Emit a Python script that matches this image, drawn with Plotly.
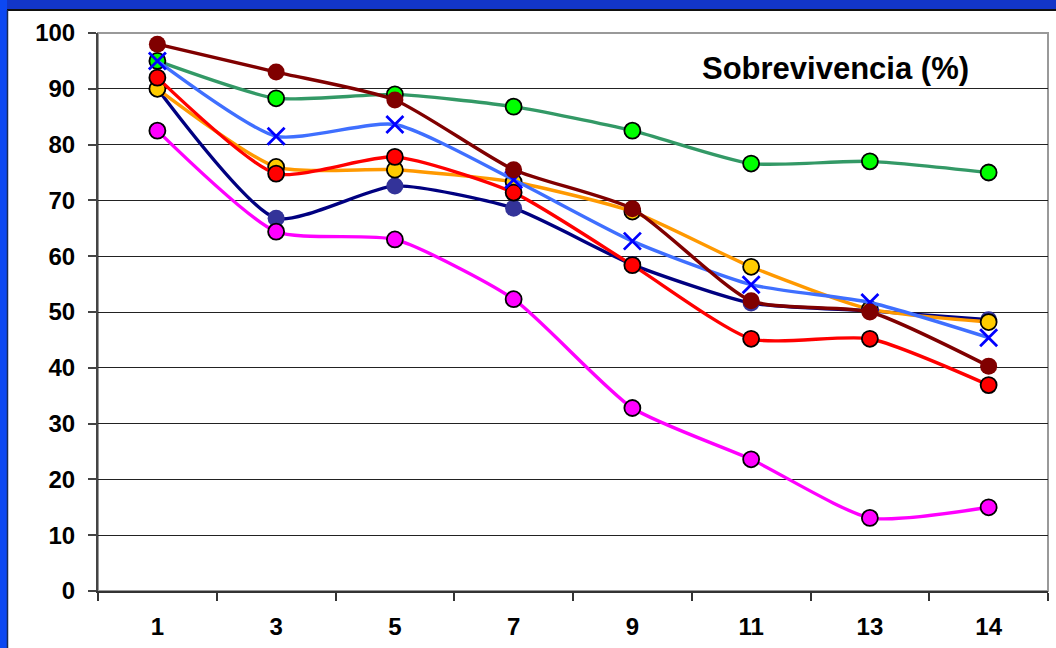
import plotly.graph_objects as go

# Days of evaluation (category axis)
dias = ["1", "3", "5", "7", "9", "11", "13", "14"]

# Survival (%) per treatment
serie_marron = [98, 93, 88, 75.5, 68.5, 52, 50, 40.3]
serie_verde = [95, 88.3, 89, 86.8, 82.5, 76.6, 77, 75]
serie_celeste = [95, 81.5, 83.6, 73.7, 62.7, 54.9, 51.7, 45.4]
serie_naranja = [90, 76, 75.5, 73.3, 68, 58.1, 50.5, 48.2]
serie_roja = [92, 74.8, 77.8, 71.4, 58.4, 45.2, 45.2, 36.9]
serie_azul = [90, 66.8, 72.6, 68.6, 58.5, 51.6, 50.2, 48.6]
serie_magenta = [82.5, 64.4, 63, 52.3, 32.8, 23.6, 13.1, 15]

y_ticks = list(range(0, 101, 10))

W, H = 1056, 648
L, R, T, B = 98, 8, 33, 57
PW, PH = W - L - R, H - T - B


def px_x(x):
    return (x - L) / PW


def px_y(y):
    return (H - B - y) / PH


fig = go.Figure()


def add_series(y, line_color, marker_color, symbol="circle", outline="black",
               outline_w=1.8, size=16):
    fig.add_trace(go.Scatter(
        x=dias, y=y, mode="lines+markers",
        line=dict(color=line_color, width=3.4, shape="spline", smoothing=0.6),
        marker=dict(symbol=symbol, size=size, color=marker_color,
                    line=dict(color=outline, width=outline_w)),
        showlegend=False, cliponaxis=False,
    ))


add_series(serie_azul, "#000080", "#333399", outline="#333399", outline_w=0,
           size=17)
add_series(serie_naranja, "#FF9900", "#FFCC00")
add_series(serie_roja, "#FF0000", "#FF0000")
add_series(serie_magenta, "#FF00FF", "#FF00FF")
add_series(serie_verde, "#339966", "#00FF00")
add_series(serie_celeste, "#3F6FFF", "#0000FF", symbol="x-thin",
           outline="#0000FF", outline_w=2.8, size=17)
add_series(serie_marron, "#800000", "#800000", outline="#800000", outline_w=0,
           size=17)

shapes = [
    # grey frame on top and right of the plotting area
    dict(type="rect", xref="paper", yref="paper", x0=0, x1=1, y0=0, y1=1,
         line=dict(color="#999999", width=2), layer="between"),
    # blue page border (top and left)
    dict(type="rect", xref="paper", yref="paper", x0=px_x(-20), x1=px_x(W + 20),
         y0=px_y(9), y1=px_y(-20), fillcolor="#1236C8", line=dict(width=0)),
    dict(type="rect", xref="paper", yref="paper", x0=px_x(-20), x1=px_x(7),
         y0=px_y(H + 20), y1=px_y(-20), fillcolor="#0C48F2", line=dict(width=0)),
    dict(type="line", xref="paper", yref="paper", x0=px_x(7), x1=px_x(W + 20),
         y0=px_y(10), y1=px_y(10), line=dict(color="#111111", width=2)),
    dict(type="line", xref="paper", yref="paper", x0=px_x(7.5), x1=px_x(7.5),
         y0=px_y(H + 20), y1=px_y(10), line=dict(color="#1a2a50", width=1.5)),
]

tick_font = dict(family="Liberation Sans, Arial, sans-serif", size=24,
                 color="black", weight="bold")

fig.update_layout(
    width=W, height=H,
    margin=dict(l=L, r=R, t=T, b=B),
    paper_bgcolor="white", plot_bgcolor="white",
    shapes=shapes,
    xaxis=dict(
        type="category", categoryorder="array", categoryarray=dias,
        showgrid=False, showline=True, linecolor="#333333", linewidth=2,
        ticks="outside", tickson="boundaries", ticklen=8, tickwidth=1.5,
        tickcolor="#333333", tickfont=tick_font, ticklabelstandoff=13,
        range=[-0.5, 7.5], zeroline=False,
    ),
    yaxis=dict(
        range=[0, 100], tickvals=y_ticks, showgrid=True, gridcolor="#222222",
        gridwidth=1, showline=True, linecolor="#444444", linewidth=2,
        ticks="outside", ticklen=8, tickwidth=1.5, tickcolor="#444444",
        tickfont=tick_font, ticklabelstandoff=8, zeroline=False,
    ),
    annotations=[dict(
        text="Sobrevivencia (%)", xref="paper", yref="paper",
        x=px_x(835), y=px_y(68), xanchor="center", yanchor="middle",
        showarrow=False,
        font=dict(family="Liberation Sans, Arial, sans-serif", size=31,
                  color="black", weight="bold"),
    )],
)

fig.write_html("out.html")
